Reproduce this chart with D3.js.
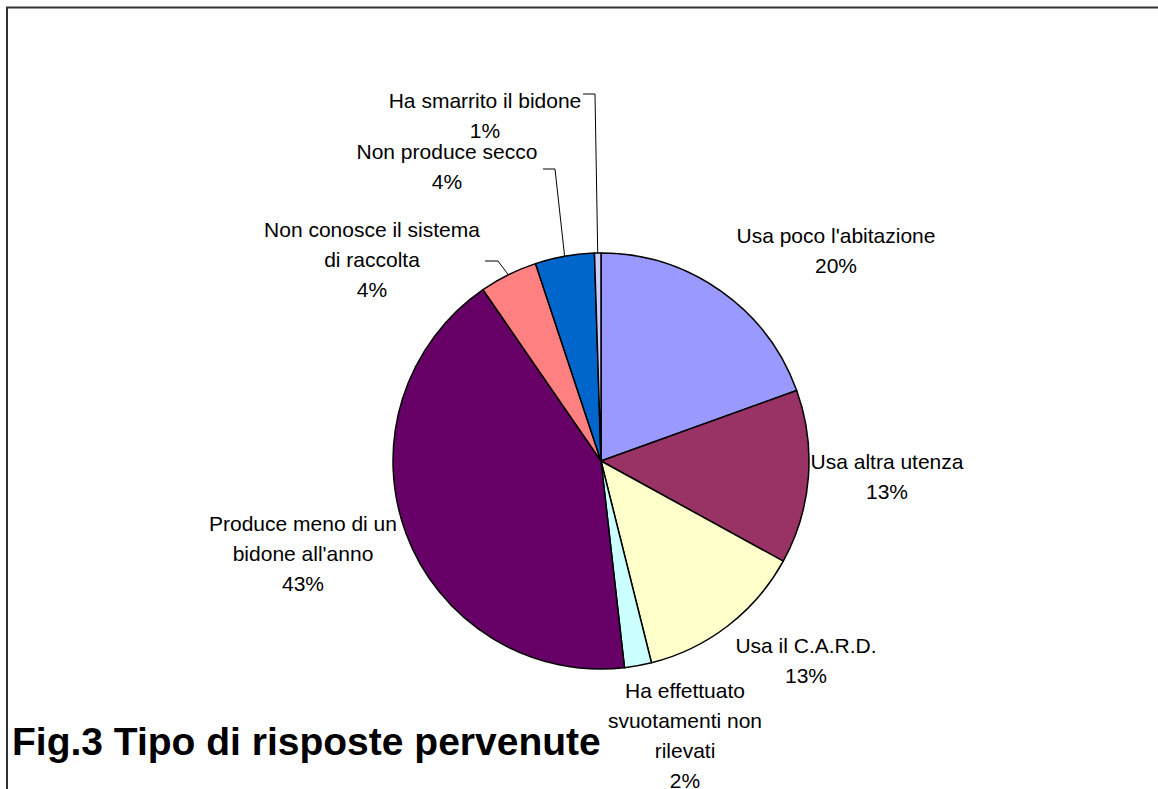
<!DOCTYPE html>
<html>
<head>
<meta charset="utf-8">
<script src="https://cdn.jsdelivr.net/npm/d3@7"></script>
<style>
  body { margin: 0; background: #fff; }
  svg { display: block; }
  text { font-family: "Liberation Sans", Arial, sans-serif; fill: #000; }
</style>
</head>
<body>
<div id="chart"></div>
<script>
// data (clockwise from 12 o'clock)
const categories = ["Usa poco l'abitazione", "Usa altra utenza", "Usa il C.A.R.D.",
  "Ha effettuato svuotamenti non rilevati", "Produce meno di un bidone all'anno",
  "Non conosce il sistema di raccolta", "Non produce secco", "Ha smarrito il bidone"];
const values = [19.5, 13.5, 13.1, 2.1, 42.2, 4.5, 4.6, 0.5];
const pctLabels = ["20%", "13%", "13%", "2%", "43%", "4%", "4%", "1%"];
const colors = ["#9999FF", "#993366", "#FFFFCC", "#CCFFFF", "#660066", "#FF8080", "#0066CC", "#CCCCFF"];

// how each label wraps in the original
const labelLines = [
  ["Usa poco l'abitazione"],
  ["Usa altra utenza"],
  ["Usa il C.A.R.D."],
  ["Ha effettuato", "svuotamenti non", "rilevati"],
  ["Produce meno di un", "bidone all'anno"],
  ["Non conosce il sistema", "di raccolta"],
  ["Non produce secco"],
  ["Ha smarrito il bidone"]
];

// label anchors: centre x, first baseline y
const labelPos = [
  [836, 243], [887, 469], [806, 653], [685, 698],
  [303, 531], [372, 237], [447, 159], [485, 108]
];
// leader lines (start segment near the label, end goes to slice rim)
const leaders = {
  5: [[485, 261], [498, 261]],
  6: [[543, 169], [555, 169]],
  7: [[583, 94], [595, 94]]
};

const width = 1158, height = 789;
const cx = 601, cy = 461, radius = 208;
const lineH = 30;

const svg = d3.select('#chart').append('svg')
  .attr('width', width)
  .attr('height', height);

// outer frame (runs off the right and bottom edges)
svg.append('rect')
  .attr('x', 7).attr('y', 7.5)
  .attr('width', width + 20).attr('height', height + 20)
  .attr('fill', 'none')
  .attr('stroke', '#333')
  .attr('stroke-width', 2);

const pie = d3.pie().sort(null).value(d => d);
const arcs = pie(values);
const arc = d3.arc().innerRadius(0).outerRadius(radius);
const rim = d3.arc().innerRadius(radius).outerRadius(radius);

const g = svg.append('g').attr('transform', 'translate(' + cx + ',' + cy + ')');

g.selectAll('path.slice')
  .data(arcs)
  .enter().append('path')
  .attr('class', 'slice')
  .attr('d', arc)
  .attr('fill', (d, i) => colors[i])
  .attr('stroke', '#000')
  .attr('stroke-width', 1.5)
  .attr('stroke-linejoin', 'round');

// leader lines
Object.keys(leaders).forEach(k => {
  const i = +k;
  const c = rim.centroid(arcs[i]);
  const pts = leaders[k].concat([[cx + c[0], cy + c[1]]]);
  svg.append('path')
    .attr('d', d3.line()(pts))
    .attr('fill', 'none')
    .attr('stroke', '#000')
    .attr('stroke-width', 1);
});

// labels
arcs.forEach((d, i) => {
  const lines = labelLines[i].concat([pctLabels[i]]);
  const t = svg.append('text')
    .attr('text-anchor', 'middle')
    .style('font-size', '21px');
  lines.forEach((s, j) => {
    t.append('tspan')
      .attr('x', labelPos[i][0])
      .attr('y', labelPos[i][1] + j * lineH)
      .text(s);
  });
});

// title
svg.append('text')
  .attr('x', 12)
  .attr('y', 755)
  .style('font-size', '39px')
  .style('font-weight', 'bold')
  .text('Fig.3 Tipo di risposte pervenute');
</script>
</body>
</html>
